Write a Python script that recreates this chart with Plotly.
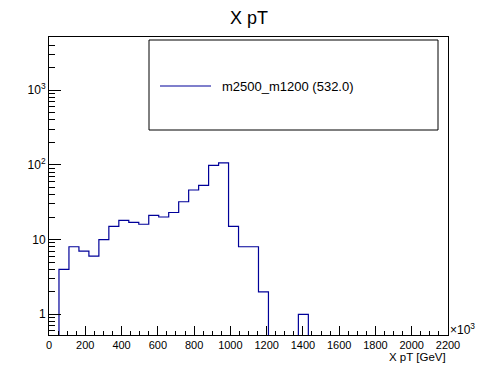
import plotly.graph_objects as go

# ---- data ----
bin_width = 55.0
n_bins = 40
counts = [0, 4, 8, 7, 6, 10, 15, 18, 17, 16,
          21, 20, 23, 32, 46, 53, 98, 106, 15, 8,
          8, 2, 0, 0, 0, 1, 0, 0, 0, 0,
          0, 0, 0, 0, 0, 0, 0, 0, 0, 0]
x_tick_vals = [0, 200, 400, 600, 800, 1000, 1200, 1400, 1600, 1800, 2000, 2200]
y_tick_vals = [1, 10, 100, 1000]
y_tick_text = ["1", "10", "10<sup>2</sup>", "10<sup>3</sup>"]
series_name = "m2500_m1200 (532.0)"
title_text = "X pT"
x_title = "X pT [GeV]"

edges = [i * bin_width for i in range(n_bins + 1)]
floor = 1e-3
y_plot = [c if c > 0 else floor for c in counts]
xs = edges
ys = y_plot + [y_plot[-1]]

FONT = "Liberation Sans, Arial, Helvetica, sans-serif"
BLUE = "#000099"

fig = go.Figure()
fig.add_trace(go.Scatter(x=xs, y=ys, mode="lines", line=dict(color=BLUE, width=1.2, shape="hv"),
                         name=series_name, showlegend=False, hoverinfo="skip"))

minor_y = []
for d in [0.1, 1, 10, 100, 1000]:
    for k in range(2, 10):
        minor_y.append(k * d)

fig.update_layout(
    width=498, height=374,
    margin=dict(l=49, r=50, t=37, b=39),
    paper_bgcolor="white", plot_bgcolor="white",
    font=dict(family=FONT, color="black", size=12),
    title=dict(text=title_text, x=0.5, xanchor="center", y=1 - 18 / 374, yanchor="middle",
               font=dict(size=18, family=FONT)),
    xaxis=dict(range=[0, 2200], showgrid=False, zeroline=False,
               showline=True, linecolor="black", linewidth=1, mirror=True,
               ticks="inside", ticklen=9, tickcolor="black", tickwidth=1,
               tickmode="array", tickvals=x_tick_vals, tickfont=dict(size=11),
               minor=dict(ticks="inside", ticklen=4, tickcolor="black", dtick=50, tick0=0, showgrid=False)),
    yaxis=dict(type="log", range=[-0.277, 3.709], showgrid=False, zeroline=False,
               showline=True, linecolor="black", linewidth=1, mirror=True,
               ticks="inside", ticklen=12, tickcolor="black", tickwidth=1,
               tickmode="array", tickvals=y_tick_vals, ticktext=y_tick_text, tickfont=dict(size=12),
               minor=dict(ticks="inside", ticklen=6, tickcolor="black", tickvals=minor_y, showgrid=False)),
    showlegend=False,
)

# axis title and exponent label
fig.add_annotation(text=x_title, xref="paper", yref="paper", x=1.0, y=-(357 - 335) / 296,
                   xanchor="right", yanchor="middle", showarrow=False, font=dict(size=11.5, family=FONT))
fig.add_annotation(text="×10<sup>3</sup>", xref="paper", yref="paper", x=1.0, y=(335 - 329) / 296,
                   xanchor="left", yanchor="middle", showarrow=False, font=dict(size=12, family=FONT))

# legend box (ROOT style)
def px_x(p):
    return (p - 49) / 399.0

def px_y(p):
    return (335 - p) / 298.0

fig.add_shape(type="rect", xref="paper", yref="paper", x0=px_x(149), x1=px_x(438), y0=px_y(130), y1=px_y(40),
              line=dict(color="black", width=1), fillcolor="white", layer="above")
fig.add_shape(type="line", xref="paper", yref="paper", x0=px_x(160), x1=px_x(211), y0=px_y(86), y1=px_y(86),
              line=dict(color=BLUE, width=1.2), layer="above")
fig.add_annotation(text=series_name, xref="paper", yref="paper", x=px_x(220), y=px_y(86),
                   xanchor="left", yanchor="middle", showarrow=False, font=dict(size=13, family=FONT))

fig.write_html("out.html", config={"displayModeBar": False, "staticPlot": True},
               post_script="document.body.style.margin='0px';document.body.style.overflow='hidden';")
